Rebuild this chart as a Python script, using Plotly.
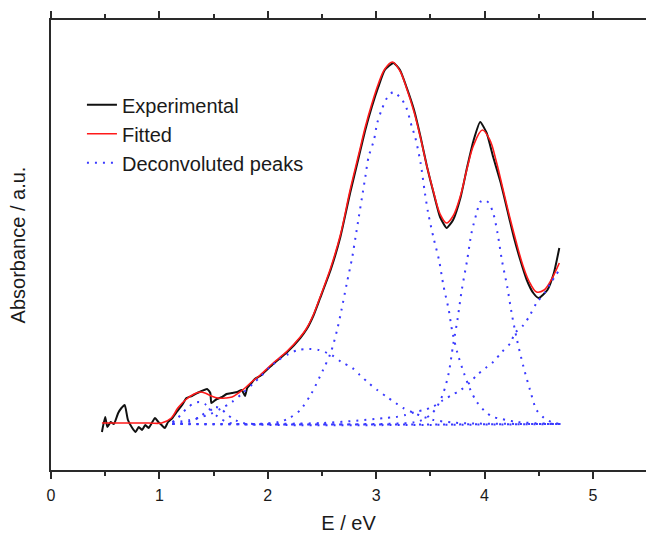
import plotly.graph_objects as go

# ---------------- data ----------------
exp_x = [0.47, 0.50, 0.52, 0.55, 0.58, 0.62, 0.65, 0.68, 0.71, 0.75, 0.78, 0.81, 0.84, 0.87,
         0.90, 0.93, 0.96, 0.99, 1.02, 1.05, 1.08, 1.12, 1.16, 1.21, 1.25, 1.30, 1.35, 1.39,
         1.44, 1.47, 1.48, 1.53, 1.58, 1.62, 1.67, 1.72, 1.76, 1.79, 1.81, 1.85, 1.88,
         1.93, 2.05, 2.18, 2.30, 2.36, 2.42, 2.48, 2.58, 2.67, 2.76, 2.84, 2.90, 2.96, 3.02, 3.08,
         3.16, 3.22, 3.28, 3.35, 3.41, 3.47, 3.53, 3.59, 3.65, 3.71, 3.78, 3.84, 3.90, 3.96,
         4.02, 4.08, 4.15, 4.21, 4.27, 4.33, 4.39, 4.45, 4.50, 4.58, 4.64, 4.69]
exp_y = [-0.08, 0.07, -0.03, 0.02, 0.00, 0.11, 0.16, 0.19, 0.04, -0.04, -0.08, -0.03, -0.06, -0.01,
         -0.04, 0.01, 0.06, 0.02, -0.01, -0.04, 0.02, 0.06, 0.12, 0.19, 0.26, 0.28, 0.31, 0.33,
         0.35, 0.31, 0.21, 0.25, 0.27, 0.30, 0.31, 0.32, 0.34, 0.28, 0.36, 0.41, 0.45,
         0.48, 0.60, 0.72, 0.86, 0.95, 1.08, 1.25, 1.54, 1.87, 2.31, 2.67, 2.94, 3.17, 3.37, 3.54,
         3.61, 3.54, 3.37, 3.14, 2.87, 2.57, 2.31, 2.07, 1.96, 2.04, 2.27, 2.57, 2.84, 3.02,
         2.91, 2.67, 2.41, 2.14, 1.87, 1.64, 1.44, 1.31, 1.26, 1.34, 1.51, 1.76]

fit_x = [0.47, 0.70, 0.90, 1.02, 1.11, 1.17, 1.24, 1.32, 1.38, 1.42, 1.48, 1.54, 1.61, 1.67,
         1.73, 1.79, 1.85, 1.93, 2.05, 2.18, 2.30, 2.36, 2.42, 2.48, 2.58, 2.67, 2.76, 2.84, 2.90,
         2.96, 3.02, 3.08, 3.15, 3.22, 3.28, 3.35, 3.41, 3.47, 3.53, 3.59, 3.65, 3.71, 3.78,
         3.84, 3.90, 3.98, 4.05, 4.11, 4.17, 4.23, 4.29, 4.35, 4.41, 4.48, 4.55, 4.62, 4.69]
fit_y = [0.01, 0.01, 0.01, 0.01, 0.06, 0.16, 0.24, 0.30, 0.32, 0.31, 0.28, 0.26, 0.26, 0.27,
         0.31, 0.36, 0.42, 0.49, 0.61, 0.73, 0.87, 0.96, 1.09, 1.26, 1.56, 1.89, 2.34, 2.70, 2.97,
         3.20, 3.40, 3.55, 3.62, 3.53, 3.36, 3.12, 2.86, 2.57, 2.32, 2.10, 2.01, 2.08, 2.29,
         2.56, 2.79, 2.94, 2.84, 2.62, 2.35, 2.08, 1.83, 1.60, 1.43, 1.32, 1.34, 1.45, 1.61]

# deconvoluted components
pk1_x = [1.12, 1.17, 1.22, 1.27, 1.32, 1.37, 1.42, 1.47, 1.52, 1.57, 1.62, 1.72, 4.70]
pk1_y = [0.02, 0.06, 0.12, 0.17, 0.21, 0.22, 0.20, 0.15, 0.09, 0.05, 0.02, 0.00, 0.00]

pk2_x = [1.12, 1.27, 1.32, 1.37, 1.42, 1.47, 1.52, 1.57, 1.62, 1.67, 1.72, 1.77, 1.87, 4.70]
pk2_y = [0.00, 0.02, 0.04, 0.07, 0.11, 0.15, 0.17, 0.15, 0.10, 0.06, 0.03, 0.01, 0.00, 0.00]

pk3_x = [1.12, 1.27, 1.37, 1.47, 1.57, 1.67, 1.77, 1.87, 1.93, 2.02, 2.10, 2.19, 2.28, 2.38,
         2.47, 2.59, 2.68, 2.78, 2.85, 2.93, 3.01, 3.10, 3.18, 3.25, 3.35, 3.44, 3.53, 3.70,
         3.90, 4.70]
pk3_y = [0.016, 0.038, 0.064, 0.10, 0.155, 0.22, 0.31, 0.41, 0.47, 0.57, 0.64, 0.70, 0.74, 0.75,
         0.74, 0.69, 0.62, 0.56, 0.49, 0.41, 0.34, 0.27, 0.21, 0.16, 0.11, 0.07, 0.04, 0.015,
         0.005, 0.0]

pk4_x = [1.12, 1.90, 2.10, 2.20, 2.30, 2.40, 2.51, 2.58, 2.64, 2.68, 2.73, 2.78, 2.81, 2.84,
         2.87, 2.90, 2.93, 2.98, 3.01, 3.05, 3.10, 3.16, 3.24, 3.28, 3.33, 3.36, 3.41, 3.45,
         3.48, 3.53, 3.58, 3.62, 3.67, 3.70, 3.75, 3.81, 3.87, 3.93, 4.01, 4.08, 4.16, 4.30,
         4.70]
pk4_y = [0.0, 0.0, 0.02, 0.06, 0.14, 0.30, 0.54, 0.71, 0.94, 1.14, 1.41, 1.67, 1.87, 2.07,
         2.27, 2.47, 2.67, 2.84, 3.01, 3.14, 3.26, 3.32, 3.24, 3.16, 2.97, 2.87, 2.61, 2.31,
         2.11, 1.86, 1.64, 1.39, 1.14, 0.94, 0.71, 0.51, 0.34, 0.22, 0.12, 0.07, 0.05, 0.02,
         0.0]

pk5_x = [1.12, 3.30, 3.40, 3.50, 3.56, 3.62, 3.67, 3.71, 3.75, 3.79, 3.84, 3.88, 3.93, 3.96,
         4.00, 4.04, 4.08, 4.12, 4.16, 4.21, 4.25, 4.30, 4.36, 4.42, 4.48, 4.55, 4.62, 4.70]
pk5_y = [0.0, 0.01, 0.03, 0.09, 0.17, 0.31, 0.51, 0.79, 1.04, 1.34, 1.64, 1.91, 2.12, 2.22,
         2.24, 2.21, 2.11, 1.91, 1.64, 1.37, 1.11, 0.84, 0.57, 0.34, 0.14, 0.06, 0.02, 0.0]

pk6_x = [1.12, 2.50, 2.99, 3.08, 3.18, 3.27, 3.36, 3.44, 3.52, 3.62, 3.70, 3.78, 3.87, 3.93,
         4.01, 4.08, 4.16, 4.24, 4.28, 4.36, 4.42, 4.48, 4.56, 4.61, 4.69]
pk6_y = [0.0, 0.01, 0.05, 0.06, 0.07, 0.09, 0.12, 0.14, 0.17, 0.24, 0.29, 0.34, 0.42, 0.49,
         0.56, 0.62, 0.72, 0.81, 0.91, 0.99, 1.09, 1.21, 1.32, 1.41, 1.54]

x_ticks = [0, 1, 2, 3, 4, 5]

FONT = "Liberation Sans, Arial, sans-serif"
AX = "#2a2a2a"

fig = go.Figure()

fig.add_trace(go.Scatter(x=exp_x, y=exp_y, mode="lines", name="Experimental",
                         line=dict(color="#111111", width=2, shape="spline", smoothing=0.5)))
fig.add_trace(go.Scatter(x=fit_x, y=fit_y, mode="lines", name="Fitted",
                         line=dict(color="#ff1a1a", width=1.6, shape="spline", smoothing=1)))

peaks = [(pk1_x, pk1_y), (pk2_x, pk2_y), (pk3_x, pk3_y),
         (pk4_x, pk4_y), (pk5_x, pk5_y), (pk6_x, pk6_y)]
for i, (px, py) in enumerate(peaks):
    fig.add_trace(go.Scatter(x=px, y=py, mode="lines", name="Deconvoluted peaks",
                             legendgroup="deconv", showlegend=(i == 0),
                             line=dict(color="#3a3aff", width=2, dash="2px,6px",
                                       shape="spline", smoothing=0.8)))

fig.update_layout(
    width=646, height=534,
    margin=dict(l=51, r=0, t=20, b=64),
    paper_bgcolor="white", plot_bgcolor="white",
    font=dict(family=FONT, color="#1a1a1a", size=16),
    showlegend=True,
    legend=dict(x=0.052, y=0.855, xanchor="left", yanchor="top",
                bgcolor="rgba(0,0,0,0)", font=dict(size=20, family=FONT, color="#1a1a1a"),
                tracegroupgap=0),
)

fig.update_xaxes(range=[0, 5.49], tickvals=x_ticks, ticks="outside", ticklen=7, tickwidth=2,
                 tickcolor=AX, showline=True, linewidth=2, linecolor=AX, mirror="ticks",
                 showgrid=False, zeroline=False, tickfont=dict(size=16, family=FONT),
                 ticklabelstandoff=3,
                 minor=dict(dtick=0.5, tick0=0, ticks="outside", ticklen=4, tickwidth=2,
                            tickcolor=AX, showgrid=False),
                 title=dict(text="E / eV", font=dict(size=20, family=FONT), standoff=16))
fig.update_yaxes(range=[-0.46, 4.04], showticklabels=False, ticks="", showline=True,
                 linewidth=2, linecolor=AX, mirror=False, showgrid=False, zeroline=False,
                 title=dict(text="Absorbance / a.u.", font=dict(size=20, family=FONT), standoff=18))

fig.write_html("out.html",
               config={"displayModeBar": False},
               post_script="document.body.style.margin='0';document.body.style.overflow='hidden';")
